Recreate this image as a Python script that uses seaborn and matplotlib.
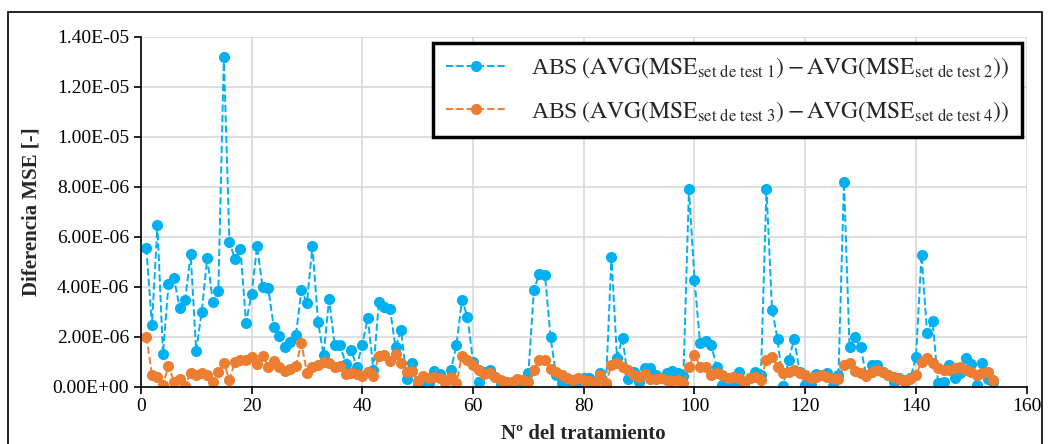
import numpy as np
import pandas as pd
import matplotlib
matplotlib.use("Agg")
import matplotlib.pyplot as plt
import seaborn as sns
from matplotlib.ticker import FuncFormatter, MultipleLocator
from matplotlib.patches import Rectangle

# values in units of 1e-6, treatment 1..154
diff_12 = [
    5.55, 2.45, 6.45, 1.30, 4.10, 4.33, 3.15, 3.45, 5.30, 1.42,
    3.00, 5.15, 3.40, 3.82, 13.20, 5.80, 5.10, 5.50, 2.55, 3.70,
    5.62, 3.97, 3.95, 2.40, 2.02, 1.60, 1.78, 2.05, 3.85, 3.35,
    5.62, 2.60, 1.25, 3.50, 1.68, 1.65, 0.92, 1.45, 0.80, 1.68,
    2.76, 0.67, 3.40, 3.18, 3.12, 1.57, 2.25, 0.32, 0.93, 0.07,
    0.02, 0.13, 0.63, 0.52, 0.20, 0.67, 1.65, 3.48, 2.78, 1.00,
    0.20, 0.60, 0.67, 0.40, 0.10, 0.20, 0.08, 0.27, 0.20, 0.53,
    3.88, 4.52, 4.45, 1.97, 0.47, 0.13, 0.02, 0.20, 0.03, 0.36,
    0.33, 0.20, 0.53, 0.02, 5.20, 1.16, 1.93, 0.31, 0.60, 0.17,
    0.73, 0.76, 0.47, 0.33, 0.53, 0.64, 0.53, 0.44, 7.90, 4.28,
    1.75, 1.82, 1.68, 0.80, 0.08, 0.30, 0.05, 0.60, 0.05, 0.35,
    0.60, 0.47, 7.92, 3.08, 1.90, 0.02, 1.05, 1.90, 0.60, 0.08,
    0.07, 0.50, 0.47, 0.53, 0.02, 0.45, 8.20, 1.57, 1.97, 1.57,
    0.47, 0.85, 0.88, 0.60, 0.47, 0.17, 0.33, 0.20, 0.33, 1.17,
    5.28, 2.15, 2.63, 0.13, 0.20, 0.87, 0.33, 0.55, 1.13, 0.90,
    0.07, 0.93, 0.31, 0.20,
]
diff_34 = [
    2.00, 0.48, 0.40, 0.05, 0.83, 0.20, 0.31, 0.02, 0.56, 0.47,
    0.56, 0.47, 0.20, 0.60, 0.93, 0.27, 1.00, 1.07, 1.07, 1.20,
    0.92, 1.24, 0.80, 1.04, 0.77, 0.64, 0.71, 0.84, 1.73, 0.56,
    0.80, 0.87, 1.00, 0.96, 0.80, 0.84, 0.51, 0.56, 0.51, 0.44,
    0.60, 0.43, 1.24, 1.27, 1.03, 1.29, 0.93, 0.60, 0.63, 0.23,
    0.43, 0.33, 0.40, 0.33, 0.17, 0.40, 0.13, 1.24, 1.07, 0.87,
    0.67, 0.49, 0.53, 0.40, 0.27, 0.20, 0.20, 0.31, 0.27, 0.20,
    0.67, 1.07, 1.07, 0.71, 0.60, 0.47, 0.33, 0.27, 0.33, 0.27,
    0.23, 0.13, 0.47, 0.13, 0.87, 0.93, 0.80, 0.67, 0.47, 0.40,
    0.49, 0.31, 0.31, 0.36, 0.27, 0.23, 0.27, 0.13, 0.80, 1.27,
    0.80, 0.80, 0.47, 0.53, 0.47, 0.36, 0.40, 0.33, 0.17, 0.33,
    0.40, 0.27, 1.07, 1.20, 0.80, 0.56, 0.60, 0.67, 0.53, 0.47,
    0.33, 0.40, 0.47, 0.40, 0.33, 0.31, 0.87, 0.93, 0.63, 0.56,
    0.43, 0.60, 0.67, 0.60, 0.47, 0.40, 0.31, 0.27, 0.31, 0.47,
    0.97, 1.13, 0.93, 0.76, 0.67, 0.67, 0.73, 0.80, 0.67, 0.60,
    0.47, 0.53, 0.60, 0.27,
]
treatment = np.arange(1, len(diff_12) + 1)

label_12 = (r"ABS$\;\left(\mathrm{AVG}\left(\mathrm{MSE}_{\mathrm{set\ de\ test\ 1}}\right)"
            r" - \mathrm{AVG}\left(\mathrm{MSE}_{\mathrm{set\ de\ test\ 2}}\right)\right)$")
label_34 = (r"ABS$\;\left(\mathrm{AVG}\left(\mathrm{MSE}_{\mathrm{set\ de\ test\ 3}}\right)"
            r" - \mathrm{AVG}\left(\mathrm{MSE}_{\mathrm{set\ de\ test\ 4}}\right)\right)$")

sns.set_theme(style="white")
plt.rcParams["font.family"] = ["Liberation Serif", "DejaVu Serif"]
plt.rcParams["mathtext.fontset"] = "stix"

fig = plt.figure(figsize=(10.54, 4.44), dpi=100)
ax = fig.add_axes([0.1336, 0.1295, 0.8405, 0.7875])

df = pd.DataFrame({"n": treatment,
                   "a": np.array(diff_12) * 1e-6,
                   "b": np.array(diff_34) * 1e-6})

sns.lineplot(data=df, x="n", y="a", ax=ax, color="#00B0F0", linestyle="--",
             linewidth=1.4, marker="o", markersize=8, markeredgewidth=0,
             label=label_12)
sns.lineplot(data=df, x="n", y="b", ax=ax, color="#ED7D31", linestyle="--",
             linewidth=1.4, marker="o", markersize=8, markeredgewidth=0,
             label=label_34)

ax.set_xlim(0, 160)
ax.set_ylim(0, 1.4e-5)
ax.xaxis.set_major_locator(MultipleLocator(20))
ax.yaxis.set_major_locator(MultipleLocator(2e-6))
ax.yaxis.set_major_formatter(FuncFormatter(lambda v, p: f"{v:.2E}"))
ax.grid(True, color="#d9d9d9", linewidth=1.2)
ax.set_axisbelow(True)
for s in ["top", "right"]:
    ax.spines[s].set_visible(False)
for s in ["left", "bottom"]:
    ax.spines[s].set_color("black")
    ax.spines[s].set_linewidth(1.2)
ax.tick_params(axis="both", which="major", direction="out", length=5,
               width=1.2, color="black", labelsize=14, labelcolor="black",
               left=True, bottom=True)
ax.set_xlabel("Nº del tratamiento", fontsize=15, fontweight="bold", labelpad=6)
ax.set_ylabel("Diferencia MSE [-]", fontsize=15, fontweight="bold", labelpad=8)

leg = ax.legend(loc="upper right", bbox_to_anchor=(0.995, 0.983), fontsize=17,
                frameon=True, fancybox=False, edgecolor="black",
                handlelength=2.6, borderpad=0.55, labelspacing=0.8,
                handletextpad=1.0, borderaxespad=0)
leg.get_frame().set_linewidth(2.5)
leg.get_frame().set_alpha(1)

fig.patches.append(Rectangle((8 / 1054, -0.05), 1034 / 1054, 1.05 - 12 / 444,
                             transform=fig.transFigure, fill=False,
                             edgecolor="black", linewidth=1.2))

fig.savefig("out.png", dpi=100)
plt.close()
